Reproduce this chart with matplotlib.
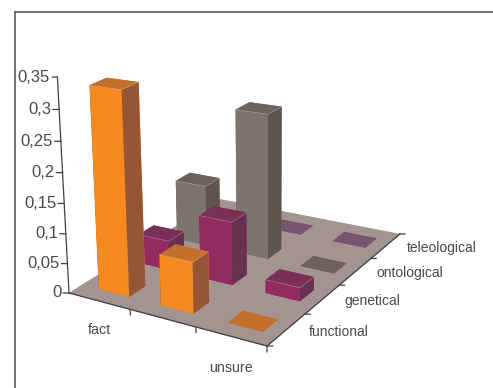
import numpy as np
import matplotlib
matplotlib.use("Agg")
import matplotlib.pyplot as plt
from matplotlib.lines import Line2D
from matplotlib.text import Text
from mpl_toolkits.mplot3d import Axes3D  # noqa: F401

plt.rcParams['font.family'] = ['Liberation Sans', 'DejaVu Sans']

# chart data
columns = ["fact", "", "unsure"]
rows = ["functional", "genetical", "ontological", "teleological"]
functional = [0.332, 0.083, 0.0]
genetical = [0.05, 0.105, 0.022]
ontological = [0.105, 0.245, 0.0]
teleological = [0.0, 0.0, 0.0]
z_ticks = [0, 0.05, 0.1, 0.15, 0.2, 0.25, 0.3, 0.35]
z_labels = ["0", "0,05", "0,1", "0,15", "0,2", "0,25", "0,3", "0,35"]

series = [functional, genetical, ontological, teleological]
# per series: front, side, top
palette = [("#F6891F", "#965535", "#C46F2A"),
           ("#932A60", "#6A3050", "#7A2F57"),
           ("#7F7370", "#5D534F", "#6E625E"),
           ("#775471", "#775471", "#775471")]
FLOOR = "#A39491"
INK = "#4A4A4A"
W, H = 493, 388
nx, ny, zmax = len(columns), len(rows), 0.35


def homography(src, dst):
    A, b = [], []
    for (x, y), (u, v) in zip(src, dst):
        A.append([x, y, 1, 0, 0, 0, -u * x, -u * y]); b.append(u)
        A.append([0, 0, 0, x, y, 1, -v * x, -v * y]); b.append(v)
    return np.append(np.linalg.solve(np.array(A, float), np.array(b, float)), 1).reshape(3, 3)


# camera set up from the floor outline and the vertical vanishing point (screen px)
floor_px = [(69, 293), (267, 346), (400, 234), (219, 199)]
Hm = homography([(0, 0), (nx, 0), (nx, ny), (0, ny)], floor_px)
vanish = np.array([268.0, 4000.0, 1.0])
axis_top_y = 77.0
k = (axis_top_y - 293.0) / (zmax * (vanish[1] - axis_top_y))
camera = np.column_stack([Hm[:, 0], Hm[:, 1], k * vanish, Hm[:, 2]])

fig = plt.figure(figsize=(W / 100, H / 100), dpi=100, facecolor="white")
ax = fig.add_axes([0, 0, 1, 1], projection="3d", computed_zorder=False)
ax.set_axis_off()
ax.set_xticks([]); ax.set_yticks([]); ax.set_zticks([])
ax.patch.set_alpha(0)


def fitted_proj():
    # image px (y down) -> display -> 2D data coordinates of the 3D axes
    flip = np.array([[1, 0, 0], [0, -1, H], [0, 0, 1.0]])
    inv = ax.transData.inverted().get_matrix() @ flip @ camera
    return np.array([inv[0], inv[1], [0, 0, 0, -1.0], inv[2]])


ax.get_proj = fitted_proj

# page rule along the top and left of the chart
for xs, ys in (([14.7, W], [11.5, 11.5]), ([14.7, 14.7], [11.5, H])):
    fig.add_artist(Line2D([x / W for x in xs], [1 - y / H for y in ys],
                          color="#4A4A4A", lw=1.1, transform=fig.transFigure))

# floor
ax.bar3d(0, 0, -0.0005, nx, ny, 0.0005, color=FLOOR, shade=False, zorder=1)

# bars, painted from the back row forward and left to right
BW, BD = 0.5, 0.39
order = 2
for j in range(ny - 1, -1, -1):
    for i in range(nx):
        v = series[j][i]
        front, side, top = palette[j]
        x0, y0 = i + (1 - BW) / 2 + 0.03, j + (1 - BD) / 2
        # face order of bar3d: bottom, top, -y, +y, -x, +x
        faces = [top, top, front, front, side, side]
        ax.bar3d(x0, y0, 0, BW, BD, max(v, 1e-5), color=faces, shade=False, zorder=order)
        if v > 0.01:
            # pale highlight along the upper edges of the box
            ax.plot([x0, x0 + BW, x0 + BW], [y0, y0, y0 + BD], [v, v, v],
                    color="#E6DCD8", lw=0.4, alpha=0.5, zorder=order + 0.5)
        order += 1

# axis lines and ticks
ink_kw = dict(color="#404040", lw=0.9, zorder=100)
ax.plot([0, 0], [0, 0], [0, zmax], **ink_kw)
ax.plot([0, nx], [0, 0], [0, 0], **ink_kw)
ax.plot([nx, nx], [0, ny], [0, 0], **ink_kw)
for z, lab in zip(z_ticks, z_labels):
    ax.plot([0, -0.07], [0, -0.04], [z, z], **ink_kw)
    ax.text(-0.09, -0.05, z, lab, ha="right", va="center", fontsize=12, color=INK, zorder=100)
for i in range(1, nx + 1):
    ax.plot([i, i], [0, 0], [0, -0.009], **ink_kw)
for j in range(0, ny + 1):
    ax.plot([nx, nx + 0.06], [j, j + 0.034], [0, 0], **ink_kw)
for i, lab in enumerate(columns):
    if lab:
        ax.text(i + 1.0 - 0.05 * i, -0.69, 0, lab, ha="center", va="center",
                fontsize=10.3, color=INK, zorder=100)
for j, lab in enumerate(rows):
    ax.text(nx + 0.27, j + 0.58, 0, lab, ha="left", va="center", fontsize=10, color=INK, zorder=100)

# blank axis labels and titles stay out of the layout
for t in fig.findobj(Text):
    if not t.get_text():
        t.set_visible(False)

fig.savefig("out.png", dpi=100, facecolor="white")
